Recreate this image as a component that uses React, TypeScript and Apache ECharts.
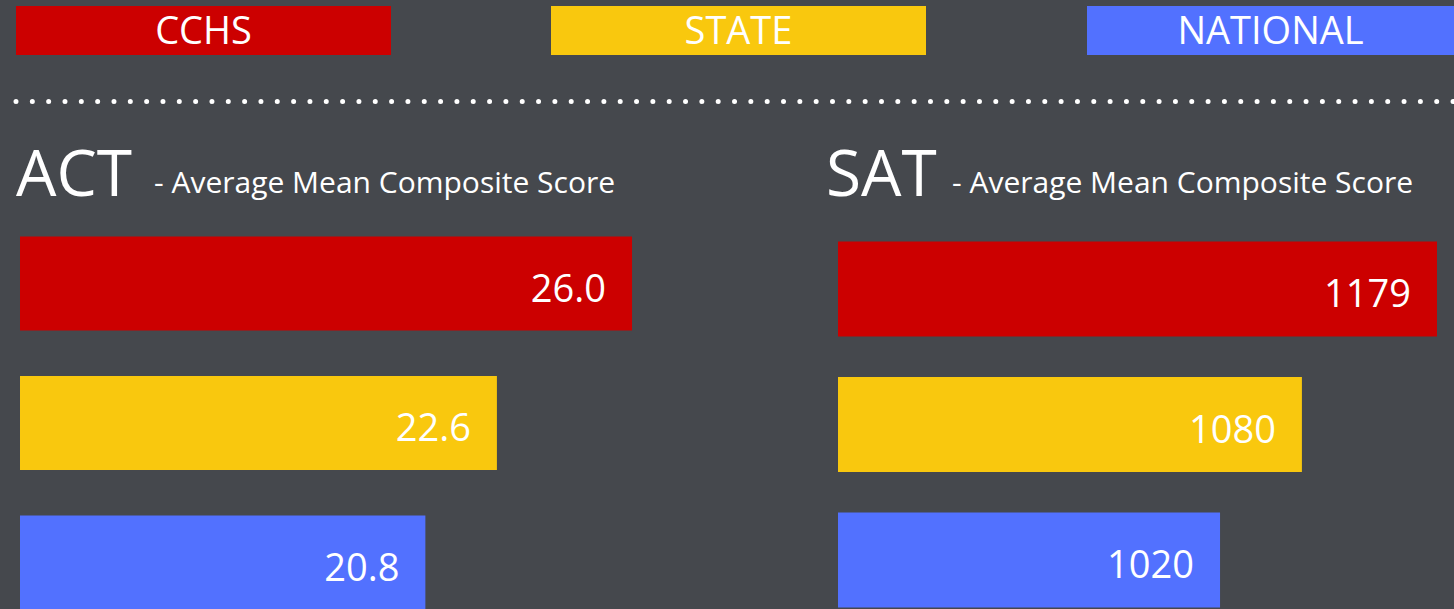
import React, { useEffect, useRef } from "react";
import * as echarts from "echarts";

const categories = ["CCHS", "STATE", "NATIONAL"];
const actValues = [26.0, 22.6, 20.8];
const satValues = [1179, 1080, 1020];
const barColors = ["#cc0000", "#f9c80e", "#5271ff"];
const actTitle = "ACT";
const satTitle = "SAT";
const subTitle = "- Average Mean Composite Score";

const BG = "#45484d";
const FONT = "'Open Sans', 'DejaVu Sans', sans-serif";

export default function App() {
  const ref = useRef<HTMLDivElement>(null);
  useEffect(() => {
    if (!ref.current) return;
    const chart = echarts.init(ref.current, undefined, { renderer: "svg" });

    const legendBoxes = [
      { x: 16, w: 375 },
      { x: 551, w: 375 },
      { x: 1087, w: 367 },
    ];

    const graphic: any[] = [];
    categories.forEach((c, i) => {
      const b = legendBoxes[i];
      graphic.push({
        type: "rect",
        shape: { x: b.x, y: 6, width: b.w, height: 49 },
        style: { fill: barColors[i] },
      });
      graphic.push({
        type: "text",
        x: b.x + b.w / 2,
        y: 29,
        style: {
          text: c,
          fill: "#ffffff",
          font: `38px ${FONT}`,
          align: "center",
          verticalAlign: "middle",
        },
      });
    });
    graphic.push({
      type: "line",
      shape: { x1: 16, y1: 101.5, x2: 1454, y2: 101.5 },
      style: { stroke: "#ffffff", lineWidth: 5, lineCap: "round", lineDash: [0, 16.33] },
    });
    [
      { t: actTitle, x: 16, sx: 154 },
      { t: satTitle, x: 826, sx: 952 },
    ].forEach((o) => {
      graphic.push({
        type: "text",
        x: o.x,
        y: 171,
        style: { text: o.t, fill: "#ffffff", font: `64px ${FONT}`, align: "left", verticalAlign: "middle" },
      });
      graphic.push({
        type: "text",
        x: o.sx,
        y: 181,
        style: { text: subTitle, fill: "#ffffff", font: `30px ${FONT}`, align: "left", verticalAlign: "middle" },
      });
    });

    const mkData = (vals: number[]) =>
      vals.map((v, i) => ({ value: v, itemStyle: { color: barColors[i] } }));

    const labelStyle = {
      show: true,
      position: "insideRight",
      distance: 26,
      offset: [0, 3],
      color: "#ffffff",
      fontSize: 38,
      fontFamily: FONT,
    };

    chart.setOption({
      animation: false,
      backgroundColor: BG,
      graphic,
      grid: [
        { left: 20, top: 213.75, width: 771, height: 418.5 },
        { left: 838, top: 221.25, width: 614, height: 406.5 },
      ],
      xAxis: [
        { type: "value", gridIndex: 0, min: 10.6, max: 30, show: false },
        { type: "value", gridIndex: 1, min: 740, max: 1190, show: false },
      ],
      yAxis: [
        { type: "category", gridIndex: 0, data: categories, inverse: true, show: false },
        { type: "category", gridIndex: 1, data: categories, inverse: true, show: false },
      ],
      series: [
        {
          type: "bar",
          xAxisIndex: 0,
          yAxisIndex: 0,
          data: mkData(actValues),
          barWidth: 94,
          label: { ...labelStyle, formatter: (p: any) => Number(p.value).toFixed(1) },
        },
        {
          type: "bar",
          xAxisIndex: 1,
          yAxisIndex: 1,
          data: mkData(satValues),
          barWidth: 95,
          label: { ...labelStyle, formatter: (p: any) => String(p.value) },
        },
      ],
    });
    return () => chart.dispose();
  }, []);
  return (
    <div
      ref={ref}
      style={{ position: "fixed", left: 0, top: 0, width: 1454, height: 650, background: BG }}
    />
  );
}
